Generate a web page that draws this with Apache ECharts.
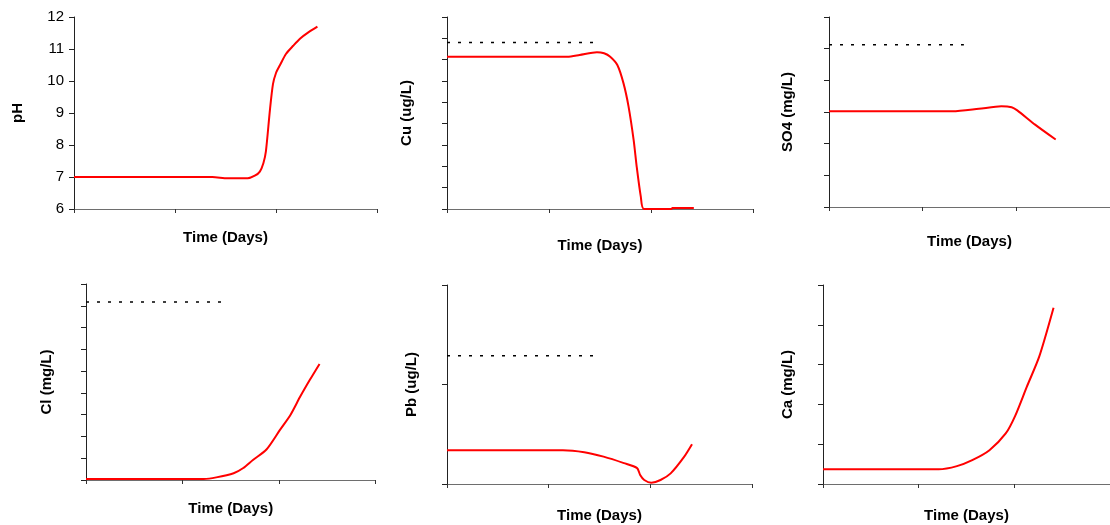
<!DOCTYPE html>
<html>
<head>
<meta charset="utf-8">
<title>ECharts</title>
<script src="https://cdn.jsdelivr.net/npm/echarts@6/dist/echarts.min.js"></script>
<style>
  html, body { margin: 0; padding: 0; background: #fff; }
</style>
</head>
<body>
<div id="main" style="width:1110px;height:525px;"></div>
<script type="text/javascript">
    // values, x in days (axis 0..3, unlabelled)
    var phDays = [0, 1.37, 1.52, 1.72, 1.79, 1.84, 1.875, 1.9, 1.94, 1.97, 2.0, 2.04, 2.1, 2.17, 2.24, 2.32, 2.41];
    var phVals = [7.0, 7.0, 6.96, 6.96, 7.04, 7.17, 7.43, 7.8, 9.1, 9.9, 10.25, 10.5, 10.85, 11.1, 11.33, 11.52, 11.7];

    var cuDays = [0, 1.18, 1.3, 1.47, 1.54, 1.6, 1.67, 1.73, 1.78, 1.83, 1.86, 1.9, 1.93, 2.2, 2.21, 2.42];
    var cuVals = [7.14, 7.14, 7.22, 7.35, 7.3, 7.14, 6.75, 5.9, 4.8, 3.23, 1.98, 0.58, 0, 0, 0.05, 0.05];

    var so4Days = [0, 1.32, 1.6, 1.84, 1.95, 2.01, 2.2, 2.42];
    var so4Vals = [3.02, 3.02, 3.1, 3.18, 3.15, 3.05, 2.6, 2.13];

    var clDays = [0, 1.22, 1.35, 1.53, 1.63, 1.73, 1.87, 2.01, 2.12, 2.22, 2.32, 2.42];
    var clVals = [0.05, 0.05, 0.12, 0.31, 0.55, 0.92, 1.4, 2.3, 3.0, 3.83, 4.6, 5.33];

    var pbDays = [0, 1.14, 1.35, 1.54, 1.74, 1.87, 1.9, 1.94, 2.01, 2.1, 2.2, 2.33, 2.41];
    var pbVals = [0.34, 0.34, 0.32, 0.275, 0.21, 0.16, 0.09, 0.04, 0.013, 0.04, 0.107, 0.27, 0.4];

    var caDays = [0, 1.21, 1.4, 1.56, 1.74, 1.91, 2.01, 2.13, 2.26, 2.41];
    var caVals = [0.37, 0.37, 0.45, 0.6, 0.85, 1.27, 1.72, 2.44, 3.2, 4.43];

    // dashed guideline levels and where they stop
    var limitNames = ['Cu', 'SO4', 'Cl', 'Pb'];
    var limitLevels = [7.8, 5.12, 8.17, 1.29];
    var limitEnds = [1.47, 1.44, 1.46, 1.47];

    var yNames = ['pH', 'Cu (ug/L)', 'SO4 (mg/L)', 'Cl (mg/L)', 'Pb (ug/L)', 'Ca (mg/L)'];
    var yMin = [6, 0, 0, 0, 0, 0];
    var yMax = [12, 9, 6, 9, 2, 5];
    var xTitle = 'Time (Days)';

    var font = 'Arial, "Liberation Sans", sans-serif';

    // layout of the six panels: [left, top, width, height, yNameGap, xNameGap]
    var boxes = [
        [74, 17, 303, 192, 49, 21],
        [447, 17, 306, 192, 33, 29],
        [829, 17, 289.5, 190, 34, 27],
        [86, 284, 289.5, 196, 32, 21],
        [447, 285, 305, 199, 28, 24],
        [823, 285, 288, 199, 28, 24]
    ];

    function pairs(xs, ys) {
        return xs.map(function (x, i) { return [x, ys[i]]; });
    }

    var grids = [], xAxes = [], yAxes = [], series = [];
    boxes.forEach(function (b, i) {
        grids.push({left: b[0], top: b[1], width: b[2], height: b[3]});
        xAxes.push({
            type: 'value', gridIndex: i, min: 0, max: 3, interval: 1,
            name: xTitle, nameLocation: 'middle', nameGap: b[5],
            nameTextStyle: {fontFamily: font, fontWeight: 'bold', fontSize: 15, color: '#000'},
            axisLine: {lineStyle: {color: '#6e6e6e', width: 1}},
            axisTick: {length: 4, lineStyle: {color: '#333'}},
            axisLabel: {show: false},
            splitLine: {show: false}
        });
        yAxes.push({
            type: 'value', gridIndex: i, min: yMin[i], max: yMax[i], interval: 1,
            name: yNames[i], nameLocation: 'middle', nameGap: b[4],
            nameTextStyle: {fontFamily: font, fontWeight: 'bold', fontSize: 15, color: '#000'},
            axisLine: {show: true, lineStyle: {color: '#222', width: 1}},
            axisTick: {show: true, length: 5, lineStyle: {color: '#222'}},
            axisLabel: {show: i === 0, fontFamily: font, fontSize: 15, color: '#000', margin: 10},
            splitLine: {show: false}
        });
    });

    var curves = [
        pairs(phDays, phVals), pairs(cuDays, cuVals), pairs(so4Days, so4Vals),
        pairs(clDays, clVals), pairs(pbDays, pbVals), pairs(caDays, caVals)
    ];
    curves.forEach(function (d, i) {
        series.push({
            type: 'line', xAxisIndex: i, yAxisIndex: i, data: d,
            smooth: 0.25, showSymbol: false, silent: true,
            lineStyle: {color: '#ff0000', width: 2}
        });
    });

    // panels 2..5 carry the dotted limit line
    limitNames.forEach(function (n, k) {
        var idx = k + 1;
        series.push({
            type: 'line', name: n + ' limit', xAxisIndex: idx, yAxisIndex: idx,
            data: [[0, limitLevels[k]], [limitEnds[k], limitLevels[k]]],
            showSymbol: false, silent: true,
            lineStyle: {color: '#000', width: 1.5, type: [3, 8]}
        });
    });

    var myChart = echarts.init(document.getElementById('main'));
    myChart.setOption({
        animation: false,
        backgroundColor: '#fff',
        grid: grids,
        xAxis: xAxes,
        yAxis: yAxes,
        series: series
    });
</script>
</body>
</html>
